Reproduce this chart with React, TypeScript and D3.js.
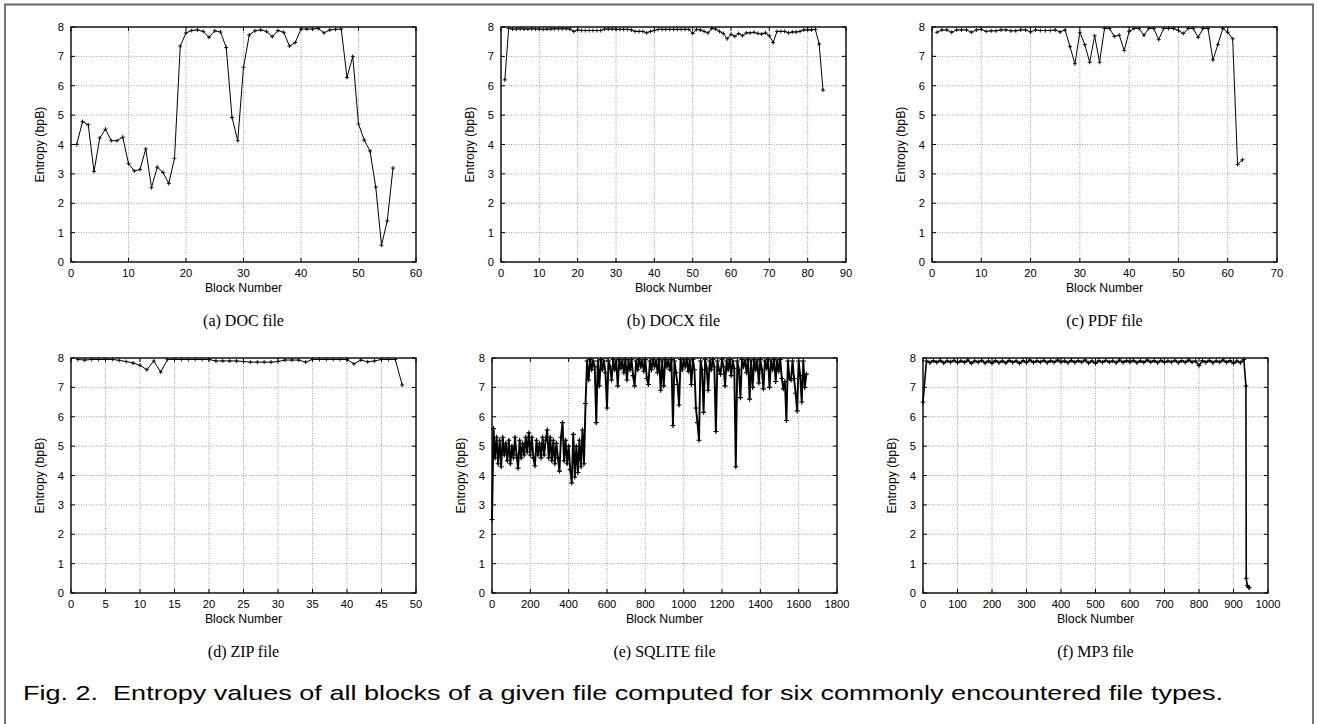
import React from 'react';
import * as d3 from 'd3';

// ---------------- DATA ----------------
const yTicks = [0, 1, 2, 3, 4, 5, 6, 7, 8];

// (a) DOC file, blocks 1..56
const docValues = [
  4.0, 4.78, 4.67, 3.08, 4.22, 4.52, 4.13, 4.13, 4.25, 3.35,
  3.1, 3.15, 3.85, 2.53, 3.23, 3.05, 2.67, 3.53, 7.35, 7.8,
  7.88, 7.9, 7.85, 7.65, 7.87, 7.83, 7.3, 4.92, 4.13, 6.63,
  7.73, 7.87, 7.9, 7.85, 7.67, 7.88, 7.82, 7.35, 7.47, 7.93,
  7.93, 7.93, 7.95, 7.8, 7.9, 7.92, 7.93, 6.28, 7.0, 4.7,
  4.15, 3.78, 2.55, 0.57, 1.4, 3.2,
];
const docXTicks = [0, 10, 20, 30, 40, 50, 60];

// (b) DOCX file, blocks 1..84
const docxValues = [
  6.2, 7.95, 7.93, 7.93, 7.94, 7.93, 7.93, 7.94, 7.93, 7.93,
  7.92, 7.93, 7.93, 7.94, 7.94, 7.94, 7.94, 7.93, 7.85, 7.9,
  7.88, 7.88, 7.88, 7.88, 7.88, 7.88, 7.93, 7.93, 7.93, 7.92,
  7.92, 7.92, 7.92, 7.9, 7.85, 7.85, 7.85, 7.8, 7.85, 7.88,
  7.92, 7.92, 7.92, 7.92, 7.92, 7.92, 7.92, 7.92, 7.92, 7.78,
  7.92, 7.9, 7.85, 7.8, 7.95, 7.93, 7.85, 7.78, 7.6, 7.75,
  7.68, 7.78, 7.7, 7.8, 7.8, 7.82, 7.78, 7.76, 7.8, 7.7,
  7.47, 7.85, 7.85, 7.85, 7.8, 7.83, 7.83, 7.85, 7.9, 7.9,
  7.9, 7.92, 7.42, 5.85,
];
const docxXTicks = [0, 10, 20, 30, 40, 50, 60, 70, 80, 90];

// (c) PDF file, blocks 1..63
const pdfValues = [
  7.82, 7.9, 7.9, 7.82, 7.9, 7.9, 7.9, 7.82, 7.9, 7.92,
  7.85, 7.87, 7.87, 7.9, 7.9, 7.87, 7.87, 7.9, 7.9, 7.83,
  7.9, 7.88, 7.88, 7.88, 7.9, 7.83, 7.9, 7.33, 6.75, 7.82,
  7.4, 6.8, 7.7, 6.8, 7.95, 7.95, 7.68, 7.72, 7.2, 7.85,
  7.95, 7.95, 7.72, 7.95, 7.95, 7.57, 7.95, 7.95, 7.95, 7.88,
  7.78, 7.95, 7.95, 7.65, 7.95, 7.95, 6.88, 7.4, 7.95, 7.82,
  7.6, 3.32, 3.48,
];
const pdfXTicks = [0, 10, 20, 30, 40, 50, 60, 70];

// (d) ZIP file, blocks 1..48
const zipValues = [
  7.95, 7.93, 7.95, 7.95, 7.95, 7.95, 7.92, 7.88, 7.83, 7.75,
  7.6, 7.9, 7.52, 7.95, 7.95, 7.95, 7.95, 7.95, 7.95, 7.95,
  7.9, 7.9, 7.9, 7.9, 7.88, 7.86, 7.86, 7.86, 7.86, 7.88,
  7.93, 7.93, 7.93, 7.86, 7.95, 7.95, 7.95, 7.95, 7.95, 7.95,
  7.8, 7.93, 7.87, 7.9, 7.95, 7.95, 7.95, 7.08,
];
const zipXTicks = [0, 5, 10, 15, 20, 25, 30, 35, 40, 45, 50];

// (e) SQLITE file, one value every 8 blocks starting at block 0
const sqliteStep = 8;
const sqliteValues = [
  // blocks 0..480
  2.5, 5.6, 4.6, 5.3, 4.4, 5.2, 4.3, 5.3, 4.7, 5.1,
  4.5, 5.2, 4.4, 5.0, 4.6, 5.3, 4.7, 4.25, 5.2, 4.6,
  5.1, 4.7, 5.3, 4.8, 5.45, 4.7, 5.3, 4.6, 4.33, 5.2,
  4.7, 5.1, 4.6, 5.3, 4.7, 5.2, 5.55, 4.6, 5.3, 4.5,
  5.2, 4.4, 5.1, 4.6, 4.15, 5.3, 5.8, 4.5, 5.2, 4.4,
  5.0, 4.2, 3.75, 5.4, 3.95, 5.0, 4.1, 5.2, 4.3, 5.55,
  4.4,
  // block 488
  6.45,
  // blocks 496..1640
  7.9, 7.25, 7.95, 7.6, 7.9, 7.7, 5.8, 7.9, 7.05, 7.95,
  7.6, 7.9, 7.5, 6.3, 7.9, 7.7, 7.25, 7.95, 7.6, 7.9,
  7.05, 7.95, 7.65, 7.9, 7.5, 7.95, 7.25, 7.9, 7.6, 7.95,
  7.4, 7.05, 7.9, 7.6, 7.95, 7.7, 7.9, 7.55, 7.95, 7.3,
  7.1, 7.9, 7.6, 7.95, 7.7, 7.9, 7.5, 7.95, 6.9, 7.9,
  7.05, 7.95, 7.7, 7.9, 7.6, 7.95, 5.7, 7.9, 7.5, 7.1,
  6.4, 7.95, 7.6, 7.9, 7.7, 7.95, 7.55, 7.9, 7.1, 7.95,
  7.6, 6.3, 5.8, 5.2, 7.9, 7.6, 6.15, 7.95, 7.65, 6.9,
  7.9, 7.6, 7.95, 7.7, 5.5, 7.9, 7.6, 7.45, 7.95, 7.7,
  7.05, 7.9, 7.6, 7.95, 7.4, 7.9, 7.65, 4.3, 7.9, 7.6,
  6.65, 7.95, 7.7, 7.9, 7.5, 7.95, 6.6, 7.9, 7.0, 7.95,
  7.6, 7.9, 7.15, 7.95, 7.6, 6.95, 7.9, 7.65, 7.95, 7.0,
  7.9, 7.6, 7.95, 7.2, 7.9, 7.55, 7.95, 7.3, 6.95, 7.2,
  5.87, 7.9, 7.3, 7.25, 7.9, 7.3, 6.8, 6.2, 7.9, 7.4,
  6.5, 7.9, 7.0, 7.45,
];
const sqliteXTicks = [0, 200, 400, 600, 800, 1000, 1200, 1400, 1600, 1800];

// (f) MP3 file, one value every 10 blocks (0..930), then the tail blocks
const mp3Step = 10;
const mp3Values = [
  6.5, 7.9, 7.84, 7.91, 7.85, 7.92, 7.83, 7.9, 7.86, 7.92,
  7.84, 7.9, 7.85, 7.93, 7.82, 7.9, 7.86, 7.92, 7.83, 7.9,
  7.82, 7.91, 7.84, 7.9, 7.83, 7.92, 7.85, 7.9, 7.82, 7.91,
  7.84, 7.93, 7.85, 7.9, 7.86, 7.92, 7.84, 7.91, 7.85, 7.93,
  7.86, 7.9, 7.84, 7.92, 7.85, 7.91, 7.86, 7.93, 7.83, 7.9,
  7.82, 7.91, 7.85, 7.92, 7.86, 7.9, 7.84, 7.93, 7.85, 7.91,
  7.86, 7.92, 7.84, 7.9, 7.85, 7.93, 7.86, 7.91, 7.84, 7.92,
  7.85, 7.9, 7.86, 7.92, 7.84, 7.91, 7.85, 7.93, 7.86, 7.9,
  7.74, 7.91, 7.85, 7.92, 7.84, 7.9, 7.86, 7.93, 7.85, 7.91,
  7.82, 7.9, 7.84, 7.95,
];
const mp3TailBlocks = [936, 937, 940, 943, 946];
const mp3TailValues = [7.05, 0.5, 0.25, 0.2, 0.18];
const mp3XTicks = [0, 100, 200, 300, 400, 500, 600, 700, 800, 900, 1000];

const captions = ['(a) DOC file', '(b) DOCX file', '(c) PDF file', '(d) ZIP file', '(e) SQLITE file', '(f) MP3 file'];
const figCaption = 'Fig. 2.  Entropy values of all blocks of a given file computed for six commonly encountered file types.';

// ---------------- BUILD SERIES ----------------
type Pt = { x: number; y: number };
const seq = (vals: number[]): Pt[] => vals.map((v, i) => ({ x: i + 1, y: v }));
const stepSeq = (vals: number[], step: number): Pt[] => vals.map((v, i) => ({ x: i * step, y: v }));

const series: { pts: Pt[]; ticks: number[] }[] = [
  { pts: seq(docValues), ticks: docXTicks },
  { pts: seq(docxValues), ticks: docxXTicks },
  { pts: seq(pdfValues), ticks: pdfXTicks },
  { pts: seq(zipValues), ticks: zipXTicks },
  { pts: stepSeq(sqliteValues, sqliteStep), ticks: sqliteXTicks },
  {
    pts: stepSeq(mp3Values, mp3Step).concat(mp3TailBlocks.map((b, i) => ({ x: b, y: mp3TailValues[i] }))),
    ticks: mp3XTicks,
  },
];

// layout
const PW = 345;
const PH = 235;
const lefts = [71, 501, 932, 71, 492, 923];
const tops = [27, 27, 27, 358, 358, 358];
const lineWidths = [1, 1, 1, 1, 1.9, 1.6];
const markerArm = [2, 2, 2, 2, 2.5, 2.3];
const markerWidth = [0.9, 0.9, 0.9, 0.9, 1.1, 1.0];

const SANS = '"Liberation Sans", Arial, Helvetica, sans-serif';
const SERIF = '"Liberation Serif", "Times New Roman", serif';

function Panel({ idx }: { idx: number }) {
  const { pts, ticks } = series[idx];
  const left = lefts[idx];
  const top = tops[idx];
  const x = d3.scaleLinear().domain([ticks[0], ticks[ticks.length - 1]]).range([0, PW]);
  const y = d3.scaleLinear().domain([0, 8]).range([PH, 0]);
  const line = d3.line<Pt>().x((d) => x(d.x)).y((d) => y(d.y));
  const a = markerArm[idx];
  const marker = `M${-a},0H${a}M0,${-a}V${a}`;
  return (
    <g transform={`translate(${left},${top})`}>
      {/* grid */}
      {ticks.slice(1, -1).map((t) => (
        <line key={'gx' + t} x1={x(t)} x2={x(t)} y1={0} y2={PH} stroke="#8a8a8a" strokeWidth={0.8} strokeDasharray="1,1.5" />
      ))}
      {yTicks.slice(1, -1).map((t) => (
        <line key={'gy' + t} x1={0} x2={PW} y1={y(t)} y2={y(t)} stroke="#8a8a8a" strokeWidth={0.8} strokeDasharray="1,1.5" />
      ))}
      {/* ticks (inward, mirrored) */}
      {ticks.map((t) => (
        <g key={'tx' + t}>
          <line x1={x(t)} x2={x(t)} y1={PH} y2={PH - 4} stroke="#000" strokeWidth={1} />
          <line x1={x(t)} x2={x(t)} y1={0} y2={4} stroke="#000" strokeWidth={1} />
        </g>
      ))}
      {yTicks.map((t) => (
        <g key={'ty' + t}>
          <line x1={0} x2={4} y1={y(t)} y2={y(t)} stroke="#000" strokeWidth={1} />
          <line x1={PW} x2={PW - 4} y1={y(t)} y2={y(t)} stroke="#000" strokeWidth={1} />
        </g>
      ))}
      {/* data */}
      <path d={line(pts) || ''} fill="none" stroke="#000" strokeWidth={lineWidths[idx]} strokeLinejoin="round" />
      {pts.map((p, i) => (
        <path key={i} d={marker} transform={`translate(${x(p.x)},${y(p.y)})`} stroke="#000" strokeWidth={markerWidth[idx]} fill="none" />
      ))}
      {/* frame */}
      <rect x={0} y={0} width={PW} height={PH} fill="none" stroke="#000" strokeWidth={1.4} />
      {/* tick labels */}
      {ticks.map((t) => (
        <text key={'lx' + t} x={x(t)} y={PH + 15} textAnchor="middle" fontFamily={SANS} fontSize={11.2} fill="#000">
          {t}
        </text>
      ))}
      {yTicks.map((t) => (
        <text key={'ly' + t} x={-7} y={y(t) + 4} textAnchor="end" fontFamily={SANS} fontSize={11.2} fill="#000">
          {t}
        </text>
      ))}
      <text x={PW / 2} y={PH + 29.5} textAnchor="middle" fontFamily={SANS} fontSize={12.3} fill="#000">
        Block Number
      </text>
      <text
        transform={`translate(${-27},${PH / 2}) rotate(-90)`}
        textAnchor="middle"
        fontFamily={SANS}
        fontSize={12.3}
        fill="#000"
      >
        Entropy (bpB)
      </text>
      <text x={PW / 2} y={PH + 64} textAnchor="middle" fontFamily={SERIF} fontSize={16} fill="#000">
        {captions[idx]}
      </text>
    </g>
  );
}

export default function App() {
  return (
    <svg
      width={1317}
      height={724}
      viewBox="0 0 1317 724"
      style={{ position: 'absolute', left: 0, top: 0, background: '#fff' }}
    >
      <rect x={0} y={0} width={1317} height={724} fill="#fff" />
      <path d="M5,730V4.5H1313V730" fill="none" stroke="#666" strokeWidth={1.8} />
      {series.map((_, i) => (
        <Panel key={i} idx={i} />
      ))}
      <text
        x={23}
        y={700}
        fontFamily={SANS}
        fontSize={21}
        fill="#000"
        textLength={1200}
        lengthAdjust="spacingAndGlyphs"
        style={{ whiteSpace: 'pre' }}
      >
        {figCaption}
      </text>
    </svg>
  );
}
